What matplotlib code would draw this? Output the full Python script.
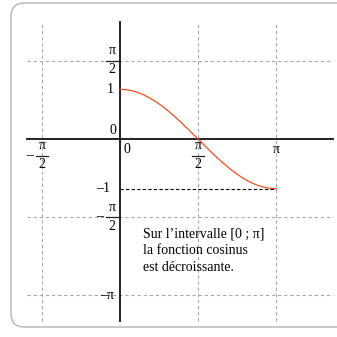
import numpy as np
import matplotlib.pyplot as plt
from matplotlib.patches import FancyBboxPatch

plt.rcParams['font.family'] = 'Liberation Serif'

# grid positions
grid_x = [-np.pi / 2, np.pi / 2, np.pi]
grid_y = [np.pi / 2, -np.pi / 2, -np.pi]

# tick labels: (position, numerator, denominator, sign)
xticks = [-np.pi / 2, 0, np.pi / 2, np.pi]
xlabels = [('π', '2', '–'), ('0', None, ''), ('π', '2', ''), ('π', None, '')]
yticks = [np.pi / 2, 1, 0, -1, -np.pi / 2, -np.pi]
ylabels = [('π', '2', ''), ('1', None, ''), ('0', None, ''),
           ('–1', None, ''), ('π', '2', '–'), ('–π', None, '')]

note = "Sur l’intervalle [0 ; π]\nla fonction cosinus\nest décroissante."

s = 49.66          # pixels per unit
ox, oy = 120, 139  # origin in pixels
W = 337
fs = 10

fig = plt.figure(figsize=(W / 100, W / 100), dpi=100)
ax = fig.add_axes([0, 0, 1, 1])
ax.set_xlim(-ox / s, (W - ox) / s)
ax.set_ylim((oy - W) / s, oy / s)
ax.axis('off')

def px(x):
    return (x - ox) / s

def py(y):
    return (oy - y) / s

# rounded frame
frame = FancyBboxPatch((11 / W, 1 - 327 / W), 340 / W, 324 / W,
                       boxstyle='round,pad=0,rounding_size=0.04',
                       transform=ax.transAxes, fill=False,
                       ec='#b4b4b4', lw=1.0, clip_on=False)
ax.add_patch(frame)

x0, x1 = px(27), px(333)
y0, y1 = py(321), py(22)
gs = dict(color='#a8a8a8', lw=0.8, ls=(0, (3, 2.5)))
for gx in grid_x:
    ax.plot([gx, gx], [y0, y1], **gs)
for gy in grid_y:
    ax.plot([x0, x1], [gy, gy], **gs)

# axes
ax.plot([x0, x1], [0, 0], color='#222222', lw=1.4)
ax.plot([0, 0], [y0, y1], color='#222222', lw=1.4)

# cosine on [0, pi]
t = np.linspace(0, np.pi, 200)
ax.plot(t, np.cos(t), color='#f04e23', lw=0.9)
ax.plot([0, np.pi], [-1, -1], color='black', lw=0.8, ls=(0, (3, 2)))

def fraction(x, y, num, den, sign):
    # stacked fraction centred on (x, y), y being the bar
    ax.text(x, y + 10 / s, num, ha='center', va='center', fontsize=fs)
    ax.text(x, y - 9 / s, den, ha='center', va='center', fontsize=fs)
    ax.plot([x - 6 / s, x + 6 / s], [y, y], color='#222222', lw=0.9)
    if sign:
        ax.text(x - 12 / s, y, sign, ha='center', va='center', fontsize=fs)

# x tick labels
for xv, (num, den, sign) in zip(xticks, xlabels):
    if den:
        fraction(xv, -17 / s, num, den, sign)
    elif num == '0':
        ax.text(xv + 3 / s, -11 / s, num, ha='left', va='center', fontsize=fs)
    else:
        ax.text(xv, -11 / s, num, ha='center', va='center', fontsize=fs)

# y tick labels
for yv, (num, den, sign) in zip(yticks, ylabels):
    if den:
        fraction(-8 / s, yv, num, den, sign)
    elif num == '0':
        ax.text(-4 / s, yv + 8 / s, num, ha='right', va='center', fontsize=fs)
    elif num == '1':
        ax.text(-6 / s, yv, num, ha='right', va='center', fontsize=fs)
    elif num == '–1':
        ax.text(-10 / s, yv, num, ha='right', va='center', fontsize=fs)
    else:
        ax.text(-6 / s, yv, num, ha='right', va='center', fontsize=fs)

ax.text(px(143), py(227), note, ha='left', va='top', fontsize=fs,
        linespacing=1.42)

fig.savefig('out.png', dpi=100)
